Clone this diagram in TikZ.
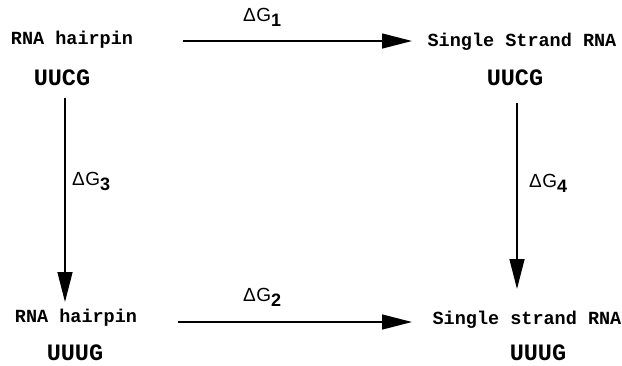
\documentclass[tikz,border=0pt]{standalone}
\usepackage{fontspec}
\setmainfont{Liberation Sans}
\newfontfamily\courierbold[BoldFont={Liberation Mono Bold}]{Liberation Mono}
\usetikzlibrary{arrows.meta}
% free energy symbol with a lowered, bold index
\newcommand{\dG}[1]{\fontsize{19}{20}\selectfont Δ\kern0.5pt G\raisebox{-5pt}{\fontsize{18}{18}\selectfont\bfseries #1}}
\begin{document}
\begin{tikzpicture}[x=1pt,y=-1pt,
  state/.style={inner sep=0pt, font=\courierbold\bfseries\fontsize{18.5}{20}\selectfont},
  seq/.style={inner sep=0pt, font=\courierbold\bfseries\fontsize{23.5}{25}\selectfont},
  dglabel/.style={inner sep=0pt, anchor=west},
  arr/.style={line width=1.4pt, -{Triangle[length=30pt,width=15pt]}}]
  \useasboundingbox (0,0) rectangle (622,365);
  % states
  \node[state] (h1) at (72,40) {RNA hairpin};
  \node[seq]   (u1) at (62,78) {UUCG};
  \node[state] (s1) at (522,42) {Single Strand RNA};
  \node[seq]   (u2) at (515,78) {UUCG};
  \node[state] (h2) at (76,318) {RNA hairpin};
  \node[seq]   (u3) at (75,353) {UUUG};
  \node[state] (s2) at (527,320) {Single strand RNA};
  \node[seq]   (u4) at (538,353) {UUUG};
  % arrow end points
  \coordinate (a1s) at (183,41);  \coordinate (a1e) at (412,41);
  \coordinate (a2s) at (178,322); \coordinate (a2e) at (412,322);
  \coordinate (a3s) at (65,98);   \coordinate (a3e) at (65,302);
  \coordinate (a4s) at (517,103); \coordinate (a4e) at (517,289);
  % transitions
  \draw[arr] (a1s) -- (a1e);
  \draw[arr] (a2s) -- (a2e);
  \draw[arr] (a3s) -- (a3e);
  \draw[arr] (a4s) -- (a4e);
  % free energy labels
  \node[dglabel] (g1) at (243,17) {\dG{1}};
  \node[dglabel] (g2) at (243,297) {\dG{2}};
  \node[dglabel] (g3) at (72,181) {\dG{3}};
  \node[dglabel] (g4) at (529,183) {\dG{4}};
\end{tikzpicture}
\end{document}
